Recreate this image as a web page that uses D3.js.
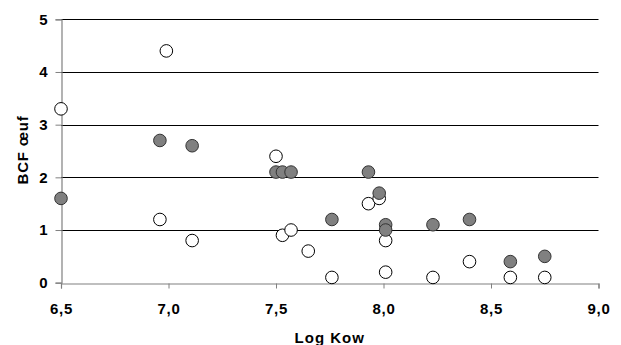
<!DOCTYPE html>
<html><head><meta charset="utf-8">
<script src="https://cdn.jsdelivr.net/npm/d3@7"></script>
<style>body{margin:0;background:#fff}svg{display:block}</style>
</head><body>
<svg id="c" width="621" height="345"></svg>
<script>
const openX = [6.5, 6.99, 7.5, 6.96, 7.11, 7.53, 7.57, 7.65, 7.76, 7.93, 7.98, 8.01, 8.01, 8.23, 8.40, 8.59, 8.75];
const openY = [3.3, 4.4, 2.4, 1.2, 0.8, 0.9, 1.0, 0.6, 0.1, 1.5, 1.6, 0.8, 0.2, 0.1, 0.4, 0.1, 0.1];
const filledX = [6.5, 6.96, 7.11, 7.5, 7.53, 7.57, 7.93, 7.98, 7.76, 8.01, 8.01, 8.23, 8.40, 8.59, 8.75];
const filledY = [1.6, 2.7, 2.6, 2.1, 2.1, 2.1, 2.1, 1.7, 1.2, 1.1, 1.0, 1.1, 1.2, 0.4, 0.5];
const xTicks = [6.5, 7.0, 7.5, 8.0, 8.5, 9.0];
const yTicks = [0, 1, 2, 3, 4, 5];
const xTitle = "Log Kow";
const yTitle = "BCF œuf";

const svg = d3.select("#c");
const x = d3.scaleLinear().domain([6.5, 9.0]).range([61, 598.5]);
const y = d3.scaleLinear().domain([0, 5]).range([282.7, 19.3]);
const font = "Arial, 'Liberation Sans', sans-serif";

// gridlines
svg.append("g").selectAll("line").data(yTicks.filter(d => d > 0)).join("line")
  .attr("x1", x(6.5)).attr("x2", x(9.0))
  .attr("y1", d => Math.round(y(d)) + 0.5).attr("y2", d => Math.round(y(d)) + 0.5)
  .attr("stroke", "#000").attr("stroke-width", 1);

// x axis
const xAxis = svg.append("g").attr("transform", `translate(0,${Math.round(y(0)) + 0.5})`)
  .call(d3.axisBottom(x).tickValues(xTicks).tickSize(5).tickPadding(15)
    .tickFormat(d => d3.format(".1f")(d).replace(".", ",")));
xAxis.select(".domain").attr("stroke", "#808080").attr("stroke-width", 1.2);
xAxis.selectAll(".tick line").attr("stroke", "#808080");
xAxis.selectAll("text").attr("font-family", font).attr("font-weight", "bold")
  .attr("font-size", 15).attr("letter-spacing", 0.8).attr("fill", "#000");

// y axis
const yAxis = svg.append("g").attr("transform", `translate(${Math.round(x(6.5)) + 0.5},0)`)
  .call(d3.axisLeft(y).tickValues(yTicks).tickSize(6).tickPadding(8).tickFormat(d3.format("d")));
yAxis.select(".domain").attr("stroke", "#808080").attr("stroke-width", 1.2);
yAxis.selectAll(".tick line").attr("stroke", "#808080");
yAxis.selectAll("text").attr("font-family", font).attr("font-weight", "bold")
  .attr("font-size", 15).attr("fill", "#000");

// titles
svg.append("text").attr("x", x(7.75)).attr("y", 343).attr("text-anchor", "middle")
  .attr("font-family", font).attr("font-weight", "bold").attr("font-size", 15)
  .attr("letter-spacing", 1).text(xTitle);
svg.append("text").attr("transform", `translate(28,${y(2.52)}) rotate(-90)`).attr("text-anchor", "middle")
  .attr("font-family", font).attr("font-weight", "bold").attr("font-size", 15)
  .attr("letter-spacing", 0.8).text(yTitle);

// markers
const open = openX.map((v, i) => [v, openY[i]]);
const filled = filledX.map((v, i) => [v, filledY[i]]);
svg.append("g").selectAll("circle").data(open).join("circle")
  .attr("cx", d => x(d[0])).attr("cy", d => y(d[1])).attr("r", 6.3)
  .attr("fill", "#fff").attr("stroke", "#000").attr("stroke-width", 1);
svg.append("g").selectAll("circle").data(filled).join("circle")
  .attr("cx", d => x(d[0])).attr("cy", d => y(d[1])).attr("r", 6.3)
  .attr("fill", "#808080").attr("stroke", "#333").attr("stroke-width", 1);
</script>
</body></html>
